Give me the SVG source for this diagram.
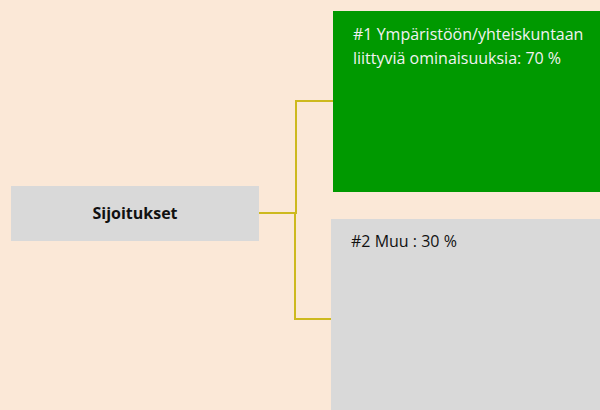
<svg xmlns="http://www.w3.org/2000/svg" width="600" height="410" viewBox="0 0 600 410">
<style>
.t{font-family:"Open Sans","Liberation Sans",sans-serif;font-size:16px}
.conn{fill:none;stroke:#CDB91E;stroke-width:2}
</style>
<rect width="600" height="410" fill="#FBE8D7"/>
<g id="connectors">
<polyline class="conn" points="259,213 296,213 296,101 333,101"/>
<polyline class="conn" points="296,213 295,213 295,319 331,319"/>
</g>
<g id="root">
<rect x="11" y="186" width="248" height="55" fill="#D9D9D9"/>
<text class="t" x="135" y="219" text-anchor="middle" font-weight="bold" font-size="14.7" fill="#111">Sijoitukset</text>
</g>
<g id="n1">
<rect x="333" y="11" width="267" height="181" fill="#009900"/>
<text class="t" x="353" y="40" fill="#F2F2F2">#1 Ympäristöön/yhteiskuntaan</text>
<text class="t" x="353" y="64" fill="#F2F2F2">liittyviä ominaisuuksia: 70 %</text>
</g>
<g id="n2">
<rect x="331" y="219" width="269" height="191" fill="#D9D9D9"/>
<text class="t" x="351" y="247" fill="#111">#2 Muu : 30 %</text>
</g>
</svg>
